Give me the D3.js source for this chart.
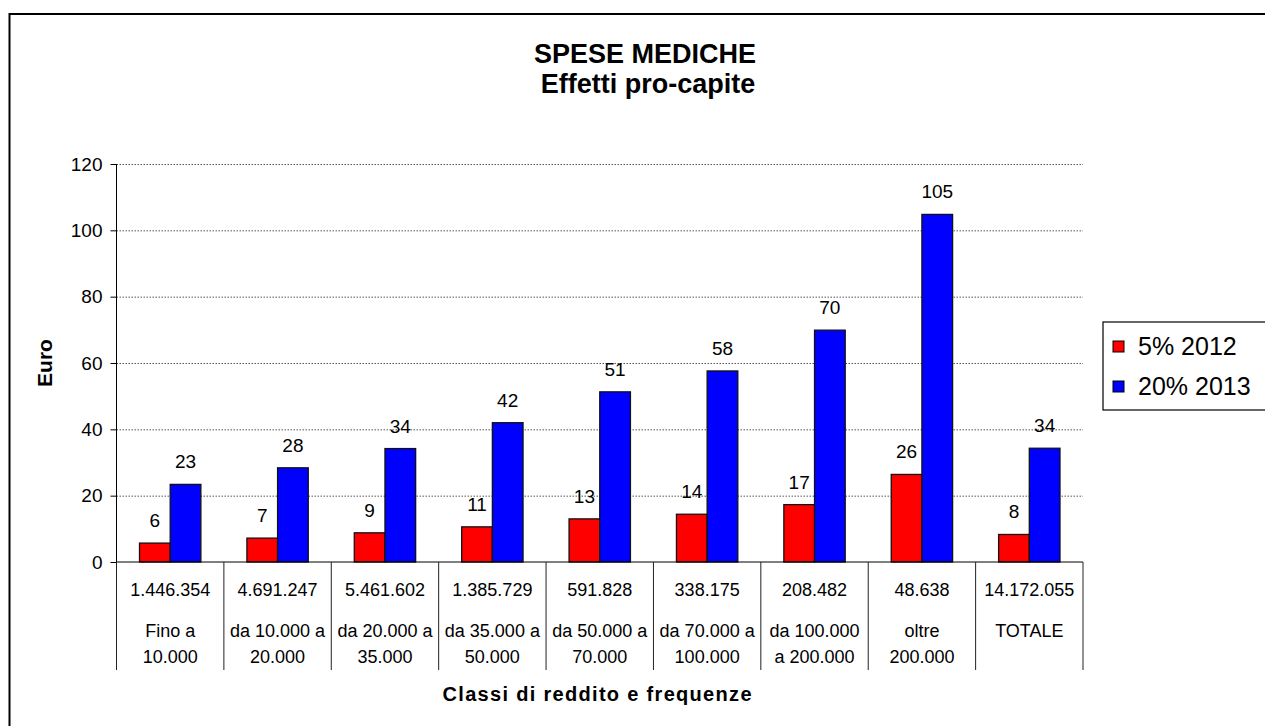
<!DOCTYPE html>
<html>
<head>
<meta charset="utf-8">
<script src="https://cdn.jsdelivr.net/npm/d3@7"></script>
<style>
  body { margin: 0; background: #fff; }
  text { font-family: "Liberation Sans", Arial, sans-serif; fill: #000; }
</style>
</head>
<body>
<svg width="1265" height="726"></svg>
<script>
// data
var frequenze = ["1.446.354", "4.691.247", "5.461.602", "1.385.729", "591.828",
                 "338.175", "208.482", "48.638", "14.172.055"];
var classi = [["Fino a", "10.000"], ["da 10.000 a", "20.000"], ["da 20.000 a", "35.000"],
              ["da 35.000 a", "50.000"], ["da 50.000 a", "70.000"], ["da 70.000 a", "100.000"],
              ["da 100.000", "a 200.000"], ["oltre", "200.000"], ["TOTALE"]];
var serie = ["5% 2012", "20% 2013"];
var colori = ["#ff0000", "#0000ff"];
var v2012 = [5.7, 7.2, 8.8, 10.6, 13.0, 14.4, 17.3, 26.4, 8.3];
var v2013 = [23.4, 28.4, 34.2, 42.0, 51.3, 57.6, 69.9, 104.8, 34.3];
var yTicks = [0, 20, 40, 60, 80, 100, 120];

var svg = d3.select("svg");

var pLeft = 116.5, pRight = 1083, pTop = 164, pBottom = 562;

// outer chart border (runs past the right/bottom edge)
svg.append("rect")
   .attr("x", 9.5).attr("y", 14)
   .attr("width", 1300).attr("height", 800)
   .attr("fill", "none").attr("stroke", "#000").attr("stroke-width", 2);

svg.append("text")
   .attr("x", 645).attr("y", 62.5)
   .attr("text-anchor", "middle")
   .attr("font-size", "27px").attr("font-weight", "bold")
   .text("SPESE MEDICHE");
svg.append("text")
   .attr("x", 648).attr("y", 93)
   .attr("text-anchor", "middle")
   .attr("font-size", "27px").attr("font-weight", "bold")
   .text("Effetti pro-capite");

var idx = d3.range(frequenze.length);
var x = d3.scaleBand().domain(idx).range([pLeft, pRight]).padding(0);
var x1 = d3.scaleBand().domain([0, 1]).range([0, x.bandwidth()])
           .paddingInner(0).paddingOuter(0.75);
var y = d3.scaleLinear().domain([0, 120]).range([pBottom, pTop]);

// gridlines
svg.append("g").selectAll("line")
   .data(yTicks.filter(function(d) { return d > 0; }))
   .enter().append("line")
   .attr("x1", pLeft).attr("x2", pRight)
   .attr("y1", function(d) { return y(d) + 0.5; })
   .attr("y2", function(d) { return y(d) + 0.5; })
   .attr("stroke", "#555").attr("stroke-dasharray", "1.5,1.5");

// y axis
var yAxis = svg.append("g")
   .attr("transform", "translate(" + pLeft + ",0)")
   .call(d3.axisLeft(y).tickValues(yTicks).tickSize(6).tickPadding(8));
yAxis.select(".domain").remove();
yAxis.selectAll("text").attr("font-size", "19px").attr("font-family", "Liberation Sans, Arial, sans-serif");
yAxis.append("line")
   .attr("x1", 0).attr("x2", 0).attr("y1", pTop).attr("y2", 670)
   .attr("stroke", "#000");

svg.append("text")
   .attr("transform", "translate(52,363) rotate(-90)")
   .attr("text-anchor", "middle")
   .attr("font-size", "21px").attr("font-weight", "bold")
   .text("Euro");

// bars
var groups = svg.append("g").selectAll("g")
   .data(idx).enter().append("g")
   .attr("transform", function(i) { return "translate(" + x(i) + ",0)"; });

var valori = [v2012, v2013];
groups.selectAll("rect")
   .data(function(i) { return [0, 1].map(function(s) { return { s: s, v: valori[s][i] }; }); })
   .enter().append("rect")
   .attr("x", function(d) { return x1(d.s); })
   .attr("y", function(d) { return y(d.v); })
   .attr("width", x1.bandwidth())
   .attr("height", function(d) { return pBottom - y(d.v); })
   .attr("fill", function(d) { return colori[d.s]; })
   .attr("stroke", "#111").attr("stroke-width", 1.3);

groups.selectAll(".lab")
   .data(function(i) { return [0, 1].map(function(s) { return { s: s, v: valori[s][i] }; }); })
   .enter().append("text")
   .attr("class", "lab")
   .attr("x", function(d) { return x1(d.s) + x1.bandwidth() / 2; })
   .attr("y", function(d) { return y(d.v) - 16; })
   .attr("text-anchor", "middle")
   .attr("font-size", "19px")
   .text(function(d) { return d3.format(".0f")(d.v); });

// x axis line and category table
svg.append("line")
   .attr("x1", pLeft).attr("x2", pRight).attr("y1", pBottom).attr("y2", pBottom)
   .attr("stroke", "#000");
svg.append("g").selectAll("line")
   .data(idx.concat([frequenze.length]))
   .enter().append("line")
   .attr("x1", function(i) { return i < frequenze.length ? x(i) : pRight; })
   .attr("x2", function(i) { return i < frequenze.length ? x(i) : pRight; })
   .attr("y1", pBottom).attr("y2", 670)
   .attr("stroke", "#222");

var cat = svg.append("g").selectAll("g")
   .data(idx).enter().append("g")
   .attr("transform", function(i) { return "translate(" + (x(i) + x.bandwidth() / 2) + ",0)"; });
cat.append("text")
   .attr("y", 596).attr("text-anchor", "middle").attr("font-size", "18px")
   .text(function(i) { return frequenze[i]; });
cat.selectAll(".riga")
   .data(function(i) { return classi[i]; })
   .enter().append("text")
   .attr("class", "riga")
   .attr("y", function(d, k) { return 637 + k * 26; })
   .attr("text-anchor", "middle").attr("font-size", "18px")
   .text(function(d) { return d; });

svg.append("text")
   .attr("x", 597).attr("y", 701)
   .attr("text-anchor", "middle")
   .attr("font-size", "20px").attr("font-weight", "bold")
   .attr("textLength", 309).attr("lengthAdjust", "spacing")
   .text("Classi di reddito e frequenze");

// legend
var leg = svg.append("g").attr("transform", "translate(1103,322)");
leg.append("rect")
   .attr("x", 0).attr("y", 0).attr("width", 175).attr("height", 88)
   .attr("fill", "#fff").attr("stroke", "#000").attr("stroke-width", 1.2);
var li = leg.selectAll(".li").data(serie).enter().append("g")
   .attr("transform", function(d, k) { return "translate(0," + (33 + k * 40) + ")"; });
li.append("rect")
   .attr("x", 10).attr("y", -14).attr("width", 11).attr("height", 11)
   .attr("fill", function(d, k) { return colori[k]; })
   .attr("stroke", "#000");
li.append("text")
   .attr("x", 35).attr("y", 0)
   .attr("font-size", "25px")
   .text(function(d) { return d; });
</script>
</body>
</html>
